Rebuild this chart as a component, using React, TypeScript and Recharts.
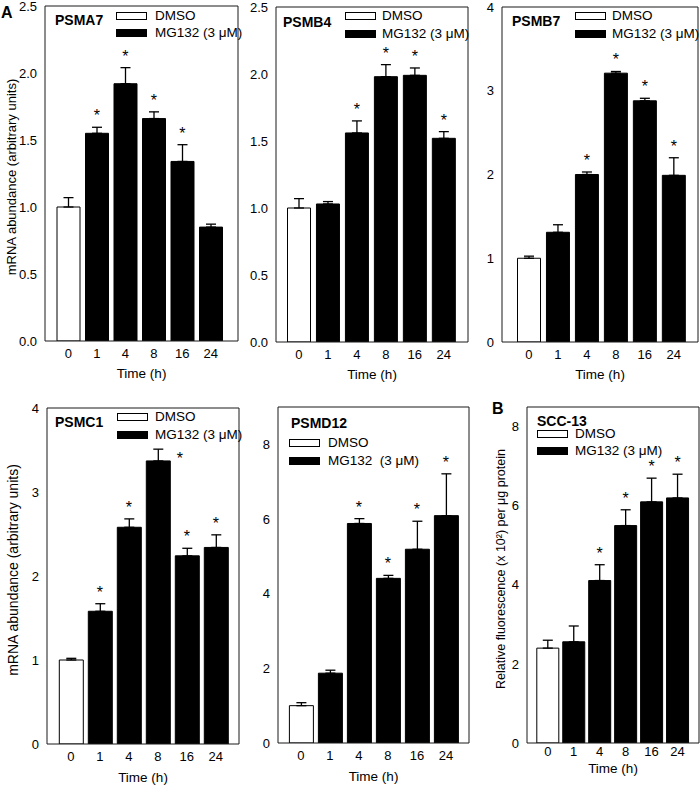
import React from 'react';
import { ComposedChart, Bar, Cell, ErrorBar, Line, XAxis, YAxis, Legend } from 'recharts';

const FONT = '"Liberation Sans", Arial, Helvetica, sans-serif';
const AXIS = '#1a1a1a';

const TIMES = ['0', '1', '4', '8', '16', '24'];
const SERIES = ['DMSO', 'MG132 (3 μM)'];

// mean / error; SIG = 1 where an asterisk is shown
const PSMA7_MEAN = [1.0, 1.55, 1.92, 1.66, 1.34, 0.85];
const PSMA7_SEM = [0.07, 0.045, 0.12, 0.05, 0.125, 0.022];
const PSMA7_SIG = [0, 1, 1, 1, 1, 0];

const PSMB4_MEAN = [1.0, 1.03, 1.56, 1.98, 1.99, 1.52];
const PSMB4_SEM = [0.07, 0.018, 0.09, 0.09, 0.055, 0.05];
const PSMB4_SIG = [0, 0, 1, 1, 1, 1];

const PSMB7_MEAN = [1.0, 1.31, 2.0, 3.21, 2.88, 1.99];
const PSMB7_SEM = [0.025, 0.09, 0.03, 0.02, 0.03, 0.21];
const PSMB7_SIG = [0, 0, 1, 1, 1, 1];

const PSMC1_MEAN = [1.0, 1.58, 2.58, 3.37, 2.24, 2.34];
const PSMC1_SEM = [0.02, 0.09, 0.1, 0.14, 0.09, 0.15];
const PSMC1_SIG = [0, 1, 1, 1, 1, 1];

const PSMD12_MEAN = [1.0, 1.87, 5.88, 4.41, 5.19, 6.09];
const PSMD12_SEM = [0.08, 0.08, 0.13, 0.08, 0.75, 1.12];
const PSMD12_SIG = [0, 0, 1, 1, 1, 1];

const SCC13_MEAN = [2.4, 2.56, 4.11, 5.5, 6.1, 6.2];
const SCC13_SEM = [0.2, 0.4, 0.4, 0.4, 0.6, 0.6];
const SCC13_SIG = [0, 0, 1, 1, 1, 1];

const TICKS_25 = [0, 0.5, 1, 1.5, 2, 2.5];
const TICKS_4 = [0, 1, 2, 3, 4];
const TICKS_8 = [0, 2, 4, 6, 8];

const MT = 10;
const MR = 6;
const XH = 44;
const ROW_GAP = 17.5;

type LegendPos = { titleX: number; titleY: number; swX: number; rowY: number; textX: number };

type PanelProps = {
  title: string;
  mean: number[];
  sem: number[];
  sig: number[];
  left: number;
  right: number;
  top: number;
  bottom: number;
  axisW: number;
  domain: [number, number];
  ticks: number[];
  decimals: number;
  padL: number;
  padR: number;
  barSize: number;
  tickMargin: number;
  timeY: number;
  yLabel?: string;
  yLabelX?: number;
  yLabelDy?: number;
  yLabelSize?: number;
  legend: LegendPos;
  mgLabel?: string;
  starShift?: { index: number; dx: number; dy: number };
};

function YTitle(props: any) {
  const { tx, ty, text, size } = props;
  return (
    <text x={tx} y={ty} transform={`rotate(-90 ${tx} ${ty})`} textAnchor="middle"
      fontSize={size} fontFamily={FONT} fill="#000">{text}</text>
  );
}

function XTitle(props: any) {
  const { tx, ty } = props;
  return (
    <text x={tx} y={ty} textAnchor="middle" fontSize={13.5} fontFamily={FONT} fill="#000">Time (h)</text>
  );
}

function PanelLegend(props: any) {
  const { title, pos, cLeft, cTop, mgLabel } = props;
  return (
    <div style={{ position: 'relative', fontFamily: FONT, color: '#000' }}>
      <div style={{ position: 'absolute', left: pos.titleX - cLeft, top: pos.titleY - cTop - 6, fontSize: 14, fontWeight: 'bold', lineHeight: '12px', whiteSpace: 'nowrap' }}>
        {title}
      </div>
      {SERIES.map((name, i) => {
        const cy = pos.rowY + i * ROW_GAP - cTop;
        return (
          <React.Fragment key={name}>
            <div style={{ position: 'absolute', left: pos.swX - cLeft, top: cy - 4, width: 31, height: 8, boxSizing: 'border-box', border: '1px solid #000', background: i === 0 ? '#fff' : '#000' }} />
            <div style={{ position: 'absolute', left: pos.textX - cLeft, top: cy - 5.6, fontSize: 13.5, lineHeight: '11px', whiteSpace: 'pre' }}>
              {i === 1 && mgLabel ? mgLabel : name}
            </div>
          </React.Fragment>
        );
      })}
    </div>
  );
}

function Panel(p: PanelProps) {
  const data = TIMES.map((t, i) => ({
    time: t,
    value: p.mean[i],
    err: [0, p.sem[i]],
    star: p.sig[i] ? p.mean[i] + p.sem[i] : null,
  }));
  const plotW = p.right - p.left;
  const plotH = p.bottom - p.top;
  const width = p.axisW + plotW + MR;
  const height = MT + plotH + XH;
  const cLeft = p.left - p.axisW;
  const cTop = p.top - MT;
  const fmt = (v: number) => v.toFixed(p.decimals);

  const renderStar = (d: any) => {
    const { cx, cy, index, payload } = d;
    if (!payload || payload.star == null || cy == null || isNaN(cy)) return <g key={`s${index}`} />;
    const sh = p.starShift && p.starShift.index === index ? p.starShift : { dx: 0, dy: 0 };
    return (
      <text key={`s${index}`} x={cx + sh.dx} y={cy - 6 + sh.dy} textAnchor="middle"
        fontSize={16} fontFamily={FONT} fill="#000">*</text>
    );
  };

  const tickStyle = { fill: '#000', fontSize: 13, fontFamily: FONT };

  return (
    <div style={{ position: 'absolute', left: cLeft, top: cTop }}>
      <ComposedChart width={width} height={height} data={data}
        margin={{ top: MT, right: MR, bottom: 0, left: 0 }}>
        <XAxis dataKey="time" height={XH} padding={{ left: p.padL, right: p.padR }}
          tickLine={false} tickSize={0} tickMargin={p.tickMargin} stroke={AXIS}
          tick={tickStyle} interval={0}
          label={<XTitle tx={p.axisW + plotW / 2} ty={MT + plotH + p.timeY} />} />
        <XAxis xAxisId="top" dataKey="time" orientation="top" mirror height={1}
          tick={false} tickLine={false} stroke={AXIS} />
        <YAxis yAxisId="main" type="number" width={p.axisW} domain={p.domain} ticks={p.ticks}
          allowDataOverflow interval={0} tickLine={false} stroke={AXIS} tick={tickStyle}
          tickFormatter={fmt}
          label={p.yLabel ? <YTitle tx={p.yLabelX} ty={MT + plotH / 2 + (p.yLabelDy || 0)} text={p.yLabel} size={p.yLabelSize || 12.5} /> : undefined} />
        <YAxis yAxisId="inner" type="number" mirror width={1} domain={p.domain} ticks={p.ticks}
          allowDataOverflow interval={0} tick={false} tickSize={4} axisLine={false} stroke={AXIS} />
        <YAxis yAxisId="right" orientation="right" type="number" mirror width={1} domain={p.domain}
          ticks={p.ticks} allowDataOverflow interval={0} tick={false} tickSize={4} stroke={AXIS} />
        <Legend layout="vertical" align="center" verticalAlign="middle"
          wrapperStyle={{ left: 0, top: 0, width: width, height: 1 }}
          content={<PanelLegend title={p.title} pos={p.legend} cLeft={cLeft} cTop={cTop} mgLabel={p.mgLabel} />} />
        <Bar yAxisId="main" dataKey="value" barSize={p.barSize} isAnimationActive={false}
          stroke="#000" strokeWidth={1}>
          {data.map((d, i) => (
            <Cell key={d.time} fill={i === 0 ? '#fff' : '#000'} />
          ))}
          <ErrorBar dataKey="err" width={5} stroke="#000" strokeWidth={1.3} direction="y" />
        </Bar>
        <Line yAxisId="main" dataKey="star" stroke="none" dot={renderStar} activeDot={false}
          isAnimationActive={false} legendType="none" />
      </ComposedChart>
    </div>
  );
}

export default function App() {
  return (
    <div style={{ position: 'absolute', left: 0, top: 0, width: 700, height: 786, overflow: 'hidden', background: '#fff', fontFamily: FONT }}>
      <Panel title="PSMA7" mean={PSMA7_MEAN} sem={PSMA7_SEM} sig={PSMA7_SIG}
        left={45} right={238} top={6} bottom={341} axisW={45}
        domain={[0, 2.5]} ticks={TICKS_25} decimals={1}
        padL={9} padR={13} barSize={23} tickMargin={8} timeY={37}
        yLabel="mRNA abundance (arbitrary units)" yLabelX={16} yLabelDy={3.5} yLabelSize={13}
        legend={{ titleX: 55, titleY: 20, swX: 116, rowY: 15.5, textX: 155 }} />
      <Panel title="PSMB4" mean={PSMB4_MEAN} sem={PSMB4_SEM} sig={PSMB4_SIG}
        left={276} right={468} top={7} bottom={342} axisW={36}
        domain={[0, 2.5]} ticks={TICKS_25} decimals={1}
        padL={8.5} padR={9.7} barSize={23} tickMargin={8} timeY={37}
        legend={{ titleX: 283, titleY: 21.5, swX: 345, rowY: 16, textX: 382 }} />
      <Panel title="PSMB7" mean={PSMB7_MEAN} sem={PSMB7_SEM} sig={PSMB7_SIG}
        left={502} right={698} top={7} bottom={342} axisW={30}
        domain={[0, 4]} ticks={TICKS_4} decimals={0}
        padL={12.5} padR={9.7} barSize={23} tickMargin={8} timeY={37}
        legend={{ titleX: 512, titleY: 21, swX: 575, rowY: 16, textX: 612 }} />
      <Panel title="PSMC1" mean={PSMC1_MEAN} sem={PSMC1_SEM} sig={PSMC1_SIG}
        left={47} right={239} top={408} bottom={744} axisW={47}
        domain={[0, 4]} ticks={TICKS_4} decimals={0}
        padL={9.3} padR={8.7} barSize={24} tickMargin={8} timeY={38}
        yLabel="mRNA abundance (arbitrary units)" yLabelX={18} yLabelDy={-6} yLabelSize={14}
        legend={{ titleX: 55, titleY: 422, swX: 117, rowY: 417, textX: 155 }}
        starShift={{ index: 3, dx: 22, dy: 21 }} />
      <Panel title="PSMD12" mean={PSMD12_MEAN} sem={PSMD12_SEM} sig={PSMD12_SIG}
        left={278} right={469} top={407} bottom={743} axisW={33}
        domain={[0, 9]} ticks={TICKS_8} decimals={0}
        padL={8.4} padR={8.6} barSize={24} tickMargin={8} timeY={38}
        legend={{ titleX: 291, titleY: 423, swX: 289, rowY: 443, textX: 328 }}
        mgLabel="MG132  (3 μM)" />
      <Panel title="SCC-13" mean={SCC13_MEAN} sem={SCC13_SEM} sig={SCC13_SIG}
        left={527} right={699} top={407} bottom={743} axisW={57}
        domain={[0, 8.5]} ticks={TICKS_8} decimals={0}
        padL={7.8} padR={8.5} barSize={22} tickMargin={4} timeY={30}
        yLabel="Relative fluorescence (x 10²) per μg protein" yLabelX={35} yLabelDy={-6} yLabelSize={12.5}
        legend={{ titleX: 537, titleY: 420.5, swX: 537, rowY: 433.5, textX: 575 }} />
      <div style={{ position: 'absolute', left: 1, top: 5, fontSize: 16, fontWeight: 'bold', lineHeight: '16px' }}>A</div>
      <div style={{ position: 'absolute', left: 492, top: 401, fontSize: 16, fontWeight: 'bold', lineHeight: '16px' }}>B</div>
    </div>
  );
}
